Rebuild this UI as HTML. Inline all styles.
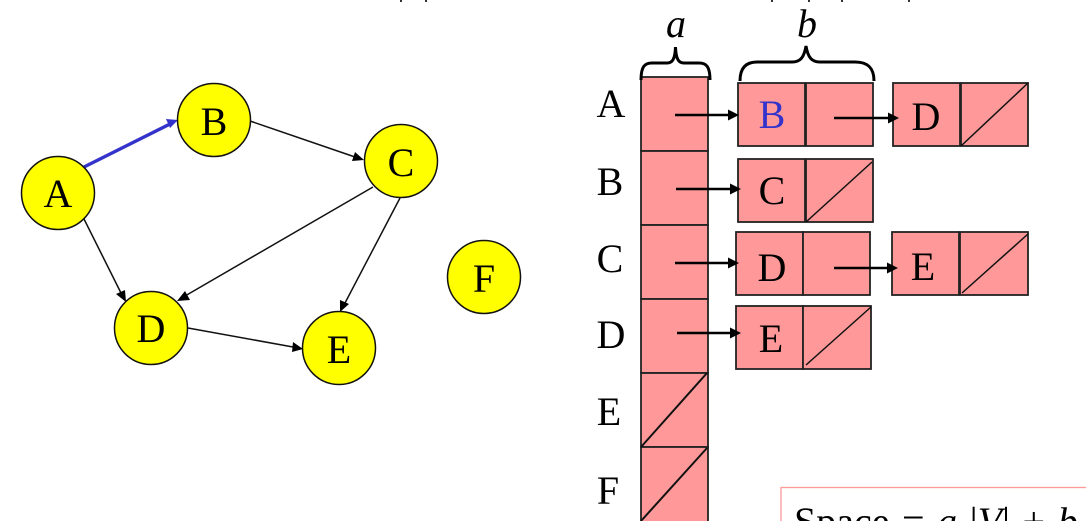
<!DOCTYPE html>
<html><head><meta charset="utf-8"><style>
html,body{margin:0;padding:0;background:#fff;width:1086px;height:521px;overflow:hidden}
svg{display:block}
text{font-family:"Liberation Serif",serif;fill:#000}
.n{font-size:40px;text-anchor:middle}
.c{fill:#ff0;stroke:#111;stroke-width:1.5}
.b{fill:#ff9999;stroke:#222;stroke-width:1.8}
.e{stroke:#111;stroke-width:1.5;fill:none}
.a{fill:#000}
.p{stroke:#000;stroke-width:2.6;fill:none}
.s{stroke:#111;stroke-width:1.5}
</style></head><body>
<svg width="1086" height="521" viewBox="0 0 1086 521" xmlns="http://www.w3.org/2000/svg">
<!-- graph edges -->
<line x1="84" y1="167" x2="170" y2="124" stroke="#3333cc" stroke-width="3.400"/>
<polygon points="178,120 166,119 170,128" fill="#3333cc"/>
<line class="e" x1="250" y1="121" x2="355" y2="157"/><polygon class="a" points="364,160 352,161 355,152"/>
<line class="e" x1="84" y1="219" x2="121" y2="293"/><polygon class="a" points="126,302 116,294 125,290"/>
<line class="e" x1="373" y1="187" x2="185" y2="296"/><polygon class="a" points="177,301 185,291 190,300"/>
<line class="e" x1="400" y1="198" x2="345" y2="303"/><polygon class="a" points="340,312 340,300 349,304"/>
<line class="e" x1="188" y1="328" x2="293" y2="347"/><polygon class="a" points="303,349 292,352 293,342"/>
<!-- nodes -->
<circle class="c" cx="58" cy="193" r="36.5"/><text class="n" x="58" y="207">A</text>
<circle class="c" cx="214" cy="120" r="36.5"/><text class="n" x="214" y="135">B</text>
<circle class="c" cx="401" cy="161" r="36.5"/><text class="n" x="401" y="176">C</text>
<circle class="c" cx="151" cy="328" r="36.5"/><text class="n" x="151" y="342">D</text>
<circle class="c" cx="339" cy="348" r="36.5"/><text class="n" x="339" y="363">E</text>
<circle class="c" cx="484" cy="277" r="36.5"/><text class="n" x="484" y="292">F</text>
<!-- row labels -->
<text class="n" x="611" y="117">A</text>
<text class="n" x="610" y="195">B</text>
<text class="n" x="610" y="272">C</text>
<text class="n" x="611" y="348">D</text>
<text class="n" x="609" y="425">E</text>
<text class="n" x="608" y="504">F</text>
<!-- array -->
<rect class="b" x="641" y="77" width="67" height="74"/>
<rect class="b" x="641" y="151" width="67" height="74"/>
<rect class="b" x="641" y="225" width="67" height="74"/>
<rect class="b" x="641" y="299" width="67" height="74"/>
<rect class="b" x="641" y="373" width="67" height="74"/>
<rect class="b" x="641" y="447" width="67" height="75"/>
<line stroke="#111" stroke-width="2" x1="641" y1="447" x2="707" y2="373"/>
<line stroke="#111" stroke-width="2" x1="641" y1="521" x2="707" y2="448"/>
<!-- list cells -->
<rect class="b" x="738" y="83" width="67" height="63"/><rect class="b" x="806" y="83" width="67" height="63"/>
<rect class="b" x="893" y="83" width="67" height="63"/><rect class="b" x="961" y="83" width="67" height="63"/>
<rect class="b" x="738" y="159" width="67" height="63"/><rect class="b" x="806" y="159" width="67" height="63"/>
<rect class="b" x="736" y="232" width="67" height="63"/><rect class="b" x="803" y="232" width="67" height="63"/>
<rect class="b" x="892" y="232" width="67" height="63"/><rect class="b" x="960" y="232" width="68" height="63"/>
<rect class="b" x="736" y="306" width="67" height="63"/><rect class="b" x="803" y="306" width="68" height="63"/>
<line class="s" x1="961" y1="146" x2="1028" y2="83"/>
<line class="s" x1="806" y1="222" x2="872" y2="162"/>
<line class="s" x1="962" y1="293" x2="1028" y2="234"/>
<line class="s" x1="806" y1="365" x2="871" y2="307"/>
<!-- list labels -->
<text class="n" x="772" y="128" style="fill:#3333cc">B</text>
<text class="n" x="926" y="130">D</text>
<text class="n" x="772" y="204">C</text>
<text class="n" x="772" y="281">D</text>
<text class="n" x="923" y="280">E</text>
<text class="n" x="771" y="352">E</text>
<!-- pointers -->
<line class="p" x1="675" y1="115" x2="730" y2="115"/><polygon class="a" points="739,115 728,109.500 728,120.500"/>
<line class="p" x1="834" y1="118" x2="890" y2="118"/><polygon class="a" points="899,118 888,112.500 888,123.500"/>
<line class="p" x1="676" y1="189" x2="732" y2="189"/><polygon class="a" points="741,189 730,183.500 730,194.500"/>
<line class="p" x1="675" y1="263" x2="730" y2="263"/><polygon class="a" points="739,263 728,257.500 728,268.500"/>
<line class="p" x1="834" y1="268" x2="889" y2="268"/><polygon class="a" points="898,268 887,262.500 887,273.500"/>
<line class="p" x1="677" y1="333" x2="733" y2="333"/><polygon class="a" points="741,333 730,327.500 730,338.500"/>
<!-- braces -->
<path d="M641 80 C641 66 645 63 652 63 L667 63 C672 63 675 60 675.500 47 C676 60 679 63 684 63 L699 63 C706 63 710 66 710 80" fill="none" stroke="#000" stroke-width="3"/>
<path d="M740 81 C740 68 746 62 757 62 L792 62 C800 62 804 58 806 46 C808 58 812 62 820 62 L855 62 C868 62 874 68 874 81" fill="none" stroke="#000" stroke-width="3"/>
<text x="676" y="37" style="font-size:40px;font-style:italic;text-anchor:middle">a</text>
<text x="807" y="37" style="font-size:40px;font-style:italic;text-anchor:middle">b</text>
<!-- top clipped glyph tails -->
<rect x="400" y="0" width="2" height="2" fill="#333"/><rect x="425" y="0" width="2" height="2" fill="#333"/>
<rect x="771" y="0" width="2" height="2" fill="#333"/><rect x="808" y="0" width="2" height="2" fill="#333"/>
<rect x="841" y="0" width="2" height="2" fill="#333"/><rect x="908" y="0" width="2" height="2" fill="#333"/>
<!-- space box -->
<rect x="781" y="487.500" width="320" height="50" fill="#fff" stroke="#ff9999" stroke-width="1.300"/>
<text x="794" y="535" style="font-size:40px;word-spacing:2.500px">Space = <tspan font-style="italic">a</tspan> |<tspan font-style="italic">V</tspan>| + <tspan font-style="italic">b</tspan></text>
</svg>
</body></html>
